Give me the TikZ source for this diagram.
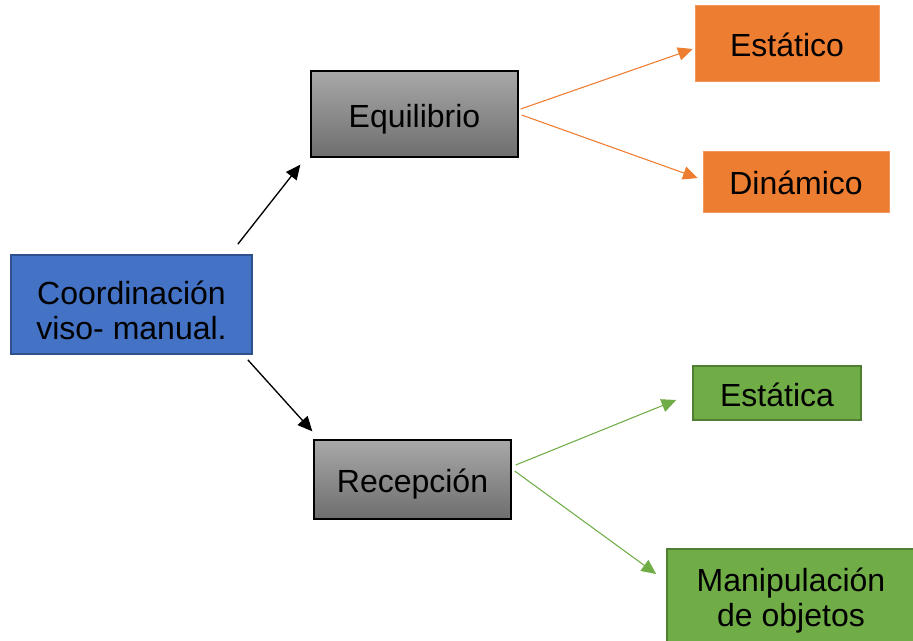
\documentclass[tikz,border=0pt]{standalone}
\usepackage{fontspec}
\setmainfont{Liberation Sans}
\usepackage{tikz}
\usetikzlibrary{arrows.meta}
\definecolor{azul}{RGB}{68,114,196}
\definecolor{azulborde}{RGB}{47,82,143}
\definecolor{naranja}{RGB}{237,125,49}
\definecolor{verde}{RGB}{112,173,71}
\definecolor{verdeborde}{RGB}{80,126,50}
\definecolor{grisclaro}{RGB}{168,168,168}
\definecolor{grisoscuro}{RGB}{110,110,110}
\def\px{0.75pt}

\tikzset{
	caja/.style={rectangle,inner sep=0pt,align=center,font=\fontsize{24}{26.5}\selectfont,text height=19.5pt,text depth=0pt},
	doble/.style={text height=#1,text depth=0pt},
	gris/.style={caja,draw=black,line width=1pt,top color=grisclaro,bottom color=grisoscuro},
	flecha/.style={-{Triangle[length=11pt,width=10pt]},line width=1pt},
}

\begin{document}
\begin{tikzpicture}[x=0.75pt,y=-0.75pt]
	\useasboundingbox (0,0) rectangle (913,640);
	\node[caja,doble=52.5pt,fill=azul,draw=azulborde,line width=1.2pt,minimum width=241*\px,minimum height=99*\px] (coord) at (131.5,304.5) {Coordinación\\viso- manual.};
	\node[gris,minimum width=207*\px,minimum height=86*\px] (equi) at (414.5,114) {Equilibrio};
	\node[gris,minimum width=197*\px,minimum height=79*\px] (recep) at (412.5,479.5) {Recepción};
	\node[caja,fill=naranja,draw=naranja!80!white,minimum width=184*\px,minimum height=76*\px] (estatico) at (787,43) {Estático};
	\node[caja,fill=naranja,draw=naranja!80!white,minimum width=186*\px,minimum height=61*\px] (dinamico) at (796,181.5) {Dinámico};
	\node[caja,fill=verde,draw=verdeborde,line width=1.2pt,minimum width=168*\px,minimum height=54*\px] (estatica) at (777,393) {Estática};
	\node[caja,doble=47pt,fill=verde,draw=verdeborde,line width=1.2pt,minimum width=248*\px,minimum height=93*\px] (manip) at (791,595.5) {Manipulación\\de objetos};

	\draw[flecha] ([shift={(-15,-10)}]coord.north east) -- ([shift={(-10,7)}]equi.south west);
	\draw[flecha] ([shift={(-5,5)}]coord.south east) -- ([shift={(-1,-8)}]recep.north west);
	\draw[flecha,naranja,line width=0.8pt] ([shift={(2,-5)}]equi.east) -- ([shift={(-2,6)}]estatico.west);
	\draw[flecha,naranja,line width=0.8pt] ([shift={(3,1)}]equi.east) -- ([shift={(-5,-3.5)}]dinamico.west);
	\draw[flecha,verde,line width=0.8pt] ([shift={(4,-14.5)}]recep.east) -- ([shift={(-16,7)}]estatica.west);
	\draw[flecha,verde,line width=0.8pt] ([shift={(3,-8.5)}]recep.east) -- ([shift={(-10,-21.5)}]manip.west);
\end{tikzpicture}
\end{document}
